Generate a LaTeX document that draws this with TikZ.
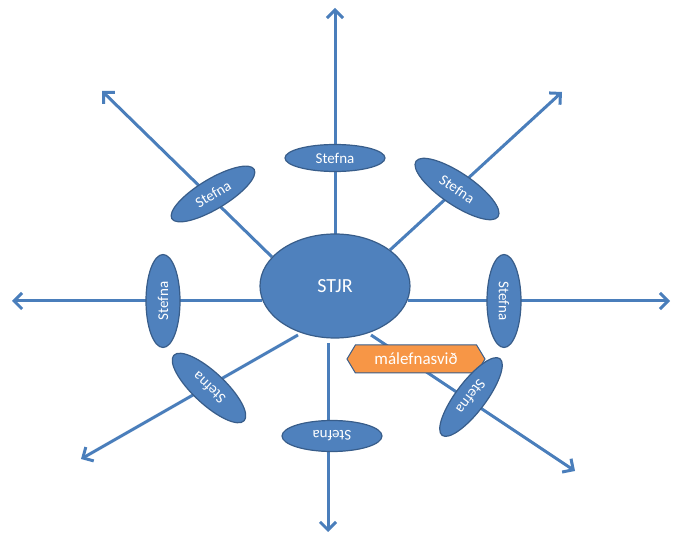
\documentclass[tikz,border=0pt]{standalone}
\usepackage{fontspec}
\setmainfont{Carlito}
\usetikzlibrary{shapes.geometric,shapes.symbols,arrows.meta}
\definecolor{bfill}{HTML}{4F81BD}
\definecolor{bdraw}{HTML}{385D8A}
\definecolor{linec}{HTML}{4A7EBB}
\definecolor{ofill}{HTML}{F79646}
\begin{document}
\begin{tikzpicture}[x=1pt,y=-1pt,
  ray/.style={draw=linec, line width=3pt, -{Straight Barb[length=8pt,width=16pt]}},
  stefna/.style={ellipse, draw=bdraw, line width=1.2pt, fill=bfill, text=white, inner sep=0pt, font=\fontsize{15}{18}\selectfont},
  tag/.style={signal, signal from=nowhere, signal to=east and west, signal pointer angle=118, fill=ofill, draw=bdraw, line width=1pt, text=white, inner sep=0pt, font=\fontsize{17}{20}\selectfont}
]
\useasboundingbox (0,0) rectangle (673,545);
% connector end points
\coordinate (uS) at (335,238); \coordinate (uT) at (335,8);
\coordinate (dS) at (328,343); \coordinate (dT) at (328,532);
\coordinate (lS) at (262,301); \coordinate (lT) at (12,301);
\coordinate (rS) at (408,301); \coordinate (rT) at (670,301);
\coordinate (ulS) at (272,257); \coordinate (ulT) at (102,91);
\coordinate (urS) at (390,250); \coordinate (urT) at (562,92);
\coordinate (llS) at (298,335); \coordinate (llT) at (81,459);
\coordinate (lrS) at (371,335); \coordinate (lrT) at (575,471);
\draw[ray] (uS) -- (uT);
\draw[ray] (dS) -- (dT);
\draw[ray] (lS) -- (lT);
\draw[ray] (rS) -- (rT);
\draw[ray] (ulS) -- (ulT);
\draw[ray] (urS) -- (urT);
\draw[ray] (llS) -- (llT);
\draw[ray] (lrS) -- (lrT);
% centre
\node[stefna, minimum width=150pt, minimum height=104pt, font=\fontsize{20}{24}\selectfont] (C) at (335,286) {STJR};
% Stefna ellipses
\node[stefna, minimum width=100pt, minimum height=27pt] (sT) at (335,158) {Stefna};
\node[stefna, minimum width=96pt, minimum height=30pt, rotate=31] (sUL) at (213,194) {Stefna};
\node[stefna, minimum width=99pt, minimum height=32pt, rotate=-34] (sUR) at (457,189) {Stefna};
\node[stefna, minimum width=93pt, minimum height=34pt, rotate=90] (sL) at (163,301) {Stefna};
\node[stefna, minimum width=93pt, minimum height=34pt, rotate=-90] (sR) at (504,301) {Stefna};
\node[stefna, minimum width=96pt, minimum height=32pt, rotate=137] (sLL) at (209,388) {Stefna};
\node[stefna, minimum width=100pt, minimum height=31pt, rotate=180] (sB) at (332,436) {Stefna};
\node[tag, minimum width=138pt, minimum height=28pt] (M) at (416,359) {málefnasvið};
\node[stefna, minimum width=96pt, minimum height=30pt, rotate=-127] (sLR) at (471,397) {Stefna};
\end{tikzpicture}
\end{document}
